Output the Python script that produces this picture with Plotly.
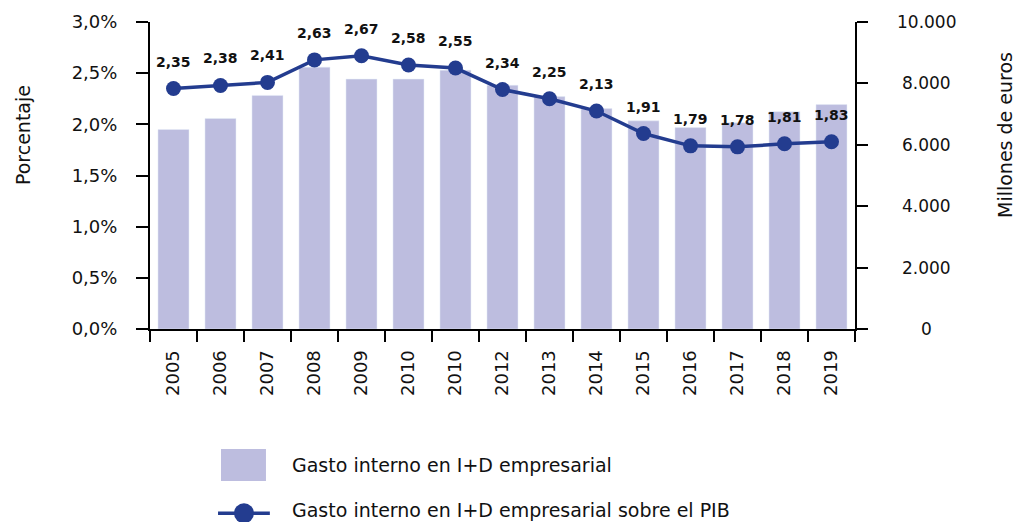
import plotly.graph_objects as go

years = ["2005", "2006", "2007", "2008", "2009", "2010", "2010", "2012",
         "2013", "2014", "2015", "2016", "2017", "2018", "2019"]
gasto_meur = [6500, 6860, 7610, 8530, 8140, 8140, 8430, 7940,
              7570, 7180, 6780, 6560, 6720, 7080, 7310]
gasto_pib = [2.35, 2.38, 2.41, 2.63, 2.67, 2.58, 2.55, 2.34,
             2.25, 2.13, 1.91, 1.79, 1.78, 1.81, 1.83]
left_ticks = [0.0, 0.5, 1.0, 1.5, 2.0, 2.5, 3.0]
right_ticks = [0, 2000, 4000, 6000, 8000, 10000]

bar_name = "Gasto interno en I+D empresarial"
line_name = "Gasto interno en I+D empresarial sobre el PIB"

BAR_COLOR = "#BDBDDF"
LINE_COLOR = "#233C8F"
FONT = "DejaVu Sans"
TXT = "#111111"

idx = list(range(len(years)))

fig = go.Figure()
fig.add_trace(go.Bar(x=idx, y=gasto_meur, name=bar_name, marker_color=BAR_COLOR,
                     width=0.66, yaxis="y", showlegend=False))
fig.add_trace(go.Scatter(x=idx, y=gasto_pib, name=line_name, mode="lines+markers",
                         line=dict(color=LINE_COLOR, width=3.5),
                         marker=dict(size=15, color=LINE_COLOR),
                         yaxis="y2", showlegend=False))

annotations = []
for i, v in zip(idx, gasto_pib):
    annotations.append(dict(x=i, y=v, xref="x", yref="y2", yshift=27,
                            text=f"{v:.2f}".replace(".", ","), showarrow=False,
                            font=dict(family=FONT, size=14, color=TXT, weight="bold")))

# right axis tick labels (centered)
for t in right_ticks:
    annotations.append(dict(x=1.102, y=t, xref="paper", yref="y", xanchor="center",
                            text=f"{t:,}".replace(",", "."), showarrow=False,
                            font=dict(family=FONT, size=17, color=TXT)))

# axis titles
annotations.append(dict(x=-0.18, y=0.632, xref="paper", yref="paper", text="Porcentaje",
                        textangle=-90, showarrow=False, xanchor="center", yanchor="middle",
                        font=dict(family=FONT, size=19, color=TXT)))
annotations.append(dict(x=1.2128, y=0.632, xref="paper", yref="paper", text="Millones de euros",
                        textangle=-90, showarrow=False, xanchor="center", yanchor="middle",
                        font=dict(family=FONT, size=19, color=TXT)))

# legend texts
annotations.append(dict(x=0.1986, y=-0.443, xref="paper", yref="paper", text=bar_name,
                        xanchor="left", yanchor="middle", showarrow=False,
                        font=dict(family=FONT, size=19, color=TXT)))
annotations.append(dict(x=0.1986, y=-0.588, xref="paper", yref="paper", text=line_name,
                        xanchor="left", yanchor="middle", showarrow=False,
                        font=dict(family=FONT, size=19, color=TXT)))

shapes = [
    dict(type="rect", xref="paper", yref="paper", x0=0.1007, x1=0.1645, y0=-0.495, y1=-0.391,
         fillcolor=BAR_COLOR, line=dict(width=0)),
    dict(type="line", xref="paper", yref="paper", x0=0.0965, x1=0.170, y0=-0.6, y1=-0.6,
         line=dict(color=LINE_COLOR, width=3.5)),
    dict(type="circle", xref="paper", yref="paper", xsizemode="pixel", ysizemode="pixel",
         xanchor=0.1333, yanchor=-0.6, x0=-10, x1=10, y0=-10, y1=10,
         fillcolor=LINE_COLOR, line=dict(width=0)),
]

fig.update_layout(
    width=1016, height=522,
    margin=dict(l=150, r=161, t=22, b=193),
    paper_bgcolor="white", plot_bgcolor="white",
    bargap=0.34,
    font=dict(family=FONT, color=TXT, size=17),
    xaxis=dict(range=[-0.5, 14.5], tickmode="array", tickvals=idx, ticktext=years,
               tickangle=-90, ticks="outside", ticklen=12, tickcolor="rgba(0,0,0,0)",
               showline=True, linecolor="black", linewidth=2, showgrid=False, zeroline=False,
               tickfont=dict(family=FONT, size=18, color=TXT),
               minor=dict(tickmode="linear", tick0=-0.5, dtick=1, ticks="outside",
                          ticklen=11, tickwidth=2, tickcolor="black", showgrid=False)),
    yaxis=dict(range=[0, 10000.5], side="right", tickmode="array", tickvals=right_ticks,
               showticklabels=False, ticks="outside", ticklen=11, tickwidth=2,
               tickcolor="black", showline=True, linecolor="black", linewidth=2,
               showgrid=False, zeroline=False),
    yaxis2=dict(range=[0, 3.00015], side="left", overlaying="y", tickmode="array",
                tickvals=left_ticks,
                ticktext=[f"{t:.1f}".replace(".", ",") + "%" for t in left_ticks],
                ticks="outside", ticklen=12, tickwidth=2, tickcolor="black",
                showline=True, linecolor="black", linewidth=2, showgrid=False,
                zeroline=False, ticklabelstandoff=15,
                tickfont=dict(family=FONT, size=18, color=TXT)),
    annotations=annotations,
    shapes=shapes,
)

fig.write_html("out.html")
